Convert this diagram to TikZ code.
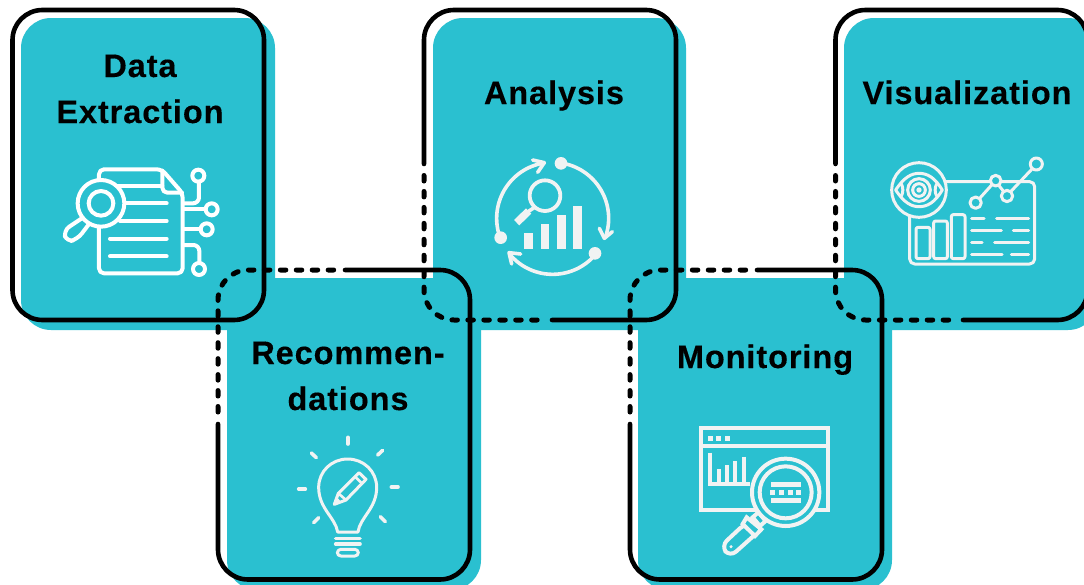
\documentclass[tikz,border=0pt]{standalone}
\usepackage{fontspec}
\newfontfamily\lab[LetterSpace=2.8,BoldFeatures={FakeBold=0.25}]{Liberation Sans}
\definecolor{tealp}{HTML}{2AC0D0}
\definecolor{ico}{HTML}{F1F3F3}
\tikzset{
  panelfill/.style={fill=tealp,rounded corners=30pt},
  outlinesolid/.style={draw=black,line width=4.6pt,rounded corners=30pt,line cap=round},
  outlinedash/.style={outlinesolid,line width=5pt,dash pattern=on 5.5pt off 10.45pt},
  lbl/.style={anchor=base,font=\lab\bfseries\fontsize{32.5}{32.5}\selectfont,text=black,inner sep=0pt},
  zoomed/.style={x=.33333pt,y=-.33333pt},
  iw/.style={draw=white,line width=4pt,line cap=round,line join=round},
  ig/.style={draw=ico,line width=3.6pt,line cap=round,line join=round},
  igt/.style={draw=ico,line width=3pt,line cap=round,line join=round},
  igs/.style={draw=ico,line width=4pt,line cap=butt,line join=miter},
}
\begin{document}
\begin{tikzpicture}[x=1pt,y=-1pt]
\useasboundingbox (0,0) rectangle (1084,584);
\clip (0,0) rectangle (1084,584);
\fill[white] (0,0) rectangle (1084,584);
% teal panels
\fill[panelfill] (21,18) rectangle (275,330);
\fill[panelfill] (433,18) rectangle (686,330);
\fill[panelfill] (844,18) rectangle (1098,330);
\fill[panelfill] (227,278) rectangle (481,590);
\fill[panelfill] (638,278) rectangle (892,590);
% labels
\node[lbl] (data) at (140,77) {Data};
\node[lbl] (extr) at (140,123) {Extraction};
\node[lbl] (anal) at (554,104) {Analysis};
\node[lbl] (visu) at (967,104) {Visualization};
\node[lbl] (reco) at (348,364) {Recommen-};
\node[lbl] (dati) at (348,410) {dations};
\node[lbl] (moni) at (765,368) {Monitoring};

% icon 1: document
\begin{scope}[shift={(0,140)},zoomed]
\draw[iw,rounded corners=5pt] (297,118) -- (297,88) -- (485,88) -- (548,160) -- (548,400) -- (297,400) -- (297,262);
\draw[iw,rounded corners=5pt] (487,92) -- (487,158) -- (546,158);
\draw[iw] (345,137) -- (487,137);
\draw[iw] (378,190) -- (500,190);
\draw[iw] (360,243) -- (500,243);
\draw[iw] (330,296) -- (500,296);
\draw[iw] (330,349) -- (500,349);
\draw[iw,rounded corners=7pt] (250,232) -- (190,272) -- (200,306) -- (232,298) -- (265,255);
\draw[iw,fill=tealp] (303,190) circle[radius=70];
\draw[iw] (303,190) circle[radius=37];
\draw[iw,rounded corners=6pt] (552,190) -- (597,190) -- (597,125);
\draw[iw] (595,107) circle[radius=18];
\draw[iw] (552,207) -- (616,207);
\draw[iw] (635,208) circle[radius=18];
\draw[iw] (552,267) -- (602,267);
\draw[iw] (620,268) circle[radius=18];
\draw[iw,rounded corners=6pt] (552,315) -- (598,315) -- (598,368);
\draw[iw] (597,387) circle[radius=18];
\end{scope}

% icon 2: analysis cycle
\begin{scope}[shift={(410,140)},zoomed]
\def\ca{428}\def\cb{235}
\draw[ig] plot[domain=163:258,samples=40,smooth] ({\ca+168*cos(\x)},{\cb+168*sin(\x)});
\draw[ig] plot[domain=-78:20,samples=40,smooth] ({\ca+168*cos(\x)},{\cb+168*sin(\x)});
\draw[ig] plot[domain=42:140,samples=40,smooth] ({\ca+168*cos(\x)},{\cb+168*sin(\x)});
\draw[ig] (368,60) -- (403,68) -- (383,97);
\draw[ig] (568,265) -- (583,295) -- (607,275);
\draw[ig] (332,342) -- (297,338) -- (305,372);
\fill[ico] (272,293) circle[radius=19];
\fill[ico] (453,70) circle[radius=19];
\fill[ico] (555,340) circle[radius=19];
\draw[ig,line width=3.8pt] (405,167) circle[radius=46];
\draw[ig] (372,203) -- (350,218);
\draw[ico,line width=7.5pt] (356,213) -- (320,248);
\fill[ico] (342,278) rectangle (368,328);
\fill[ico] (392,252) rectangle (417,328);
\fill[ico] (441,224) rectangle (467,328);
\fill[ico] (490,198) rectangle (516,328);
\end{scope}

% icon 3: dashboard
\begin{scope}[shift={(824,140)},zoomed]
\draw[igt,rounded corners=5pt] (257,125) rectangle (632,372);
\draw[igt,fill=tealp] (285,150) circle[radius=82];
\draw[igt] (215,150) .. controls (240,112) and (262,100) .. (285,100) .. controls (310,100) and (332,112) .. (355,150) .. controls (332,188) and (310,200) .. (285,200) .. controls (262,200) and (240,188) .. (215,150) -- cycle;
\draw[igt] (285,150) circle[radius=34];
\draw[igt] (285,150) circle[radius=19];
\fill[ico] (285,150) circle[radius=8];
\draw[igt] (232,132) .. controls (238,142) and (238,158) .. (232,168);
\draw[igt] (338,132) .. controls (332,142) and (332,158) .. (338,168);
\draw[igt] (467,175) -- (503,135);
\draw[igt] (525,137) -- (538,153);
\draw[igt] (560,155) -- (626,85);
\draw[igt,fill=tealp] (455,188) circle[radius=17];
\draw[igt,fill=tealp] (515,122) circle[radius=16];
\draw[igt,fill=tealp] (549,168) circle[radius=17];
\draw[igt,fill=tealp] (637,72) circle[radius=18];
\draw[igt,rounded corners=2pt] (276,262) rectangle (318,356);
\draw[igt,rounded corners=2pt] (329,243) rectangle (370,356);
\draw[igt,rounded corners=2pt] (382,224) rectangle (423,356);
\draw[igt] (443,236) -- (480,236);
\draw[igt] (518,236) -- (614,236);
\draw[igt] (443,271) -- (532,271);
\draw[igt] (568,271) -- (614,271);
\draw[igt] (443,307) -- (474,307);
\draw[igt] (512,307) -- (614,307);
\draw[igt] (443,343) -- (534,343);
\draw[igt] (562,343) -- (614,343);
\end{scope}

% icon 4: bulb
\begin{scope}[shift={(210,410)},zoomed]
\draw[ig] (414,82) -- (414,102);
\draw[ig] (304,129) -- (319,143);
\draw[ig] (518,121) -- (503,135);
\draw[ig] (266,237) -- (286,237);
\draw[ig] (544,231) -- (564,231);
\draw[ig] (311,338) -- (326,323);
\draw[ig] (511,320) -- (526,335);
\draw[igt] (383,366) .. controls (376,322) and (326,296) .. (326,232) .. controls (326,184) and (365,147) .. (413,147) .. controls (461,147) and (500,184) .. (500,232) .. controls (500,296) and (450,322) .. (444,366) -- cycle;
\draw[ig] (377,385) -- (450,385);
\draw[ig] (377,402) -- (450,402);
\draw[igt,rounded corners=3.5pt] (382,418) rectangle (445,438);
\draw[igt] (373,283) -- (385,250) -- (447,188) -- (468,208) -- (408,270) -- cycle;
\draw[igt,line width=2.6pt] (385,250) -- (408,270);
\draw[igt,line width=2.6pt] (435,200) -- (456,220);
\fill[ico] (373,283) -- (381,262) -- (394,276) -- cycle;
\end{scope}

% icon 5: monitoring
\begin{scope}[shift={(620,410)},zoomed]
\draw[igs] (242,55) rectangle (625,300);
\draw[igs] (242,108) -- (625,108);
\fill[ico] (264,78) rectangle (279,93);
\fill[ico] (289,78) rectangle (303,93);
\fill[ico] (316,78) rectangle (330,93);
\draw[igs] (270,128) -- (270,223) -- (390,223);
\draw[igs] (296,178) -- (296,223);
\draw[igs] (321,165) -- (321,223);
\draw[igs] (346,153) -- (346,223);
\draw[igs] (371,140) -- (371,223);
\draw[igs,line join=round,rounded corners=8pt,fill=tealp] (378,338) -- (303,408) -- (330,441) -- (415,365) -- cycle;
\draw[igs,fill=tealp] (380,322) -- (368,342) -- (405,378) -- (424,358) -- cycle;
\draw[igs,fill=tealp] (398,322) -- (415,307) -- (437,333) -- (420,348) -- cycle;
\draw[igs,fill=tealp] (497,247) circle[radius=101];
\draw[igs] (497,247) circle[radius=78];
\fill[ico] (453,216) rectangle (543,231);
\fill[ico] (450,240) rectangle (465,255);
\fill[ico] (477,240) rectangle (492,255);
\fill[ico] (503,240) rectangle (518,255);
\fill[ico] (529,240) rectangle (543,255);
\fill[ico] (453,264) rectangle (543,279);
\fill[ico] (333,410) circle[radius=5];
\end{scope}

% outlines
\draw[outlinesolid] (12.5,10) rectangle (264,320);
% analysis
\draw[outlinesolid] (424,164) -- (424,10) -- (676,10) -- (676,320) -- (552,320);
\draw[outlinedash] (424,175.5) -- (424,320) -- (542,320);
% visualization
\draw[outlinesolid] (835.5,164) -- (835.5,10) -- (1087.5,10) -- (1087.5,320) -- (963,320);
\draw[outlinedash] (835.5,175.5) -- (835.5,320) -- (954,320);
% recommendations
\draw[outlinesolid] (345,270) -- (470,270) -- (470,579.5) -- (218,579.5) -- (218,424);
\draw[outlinedash] (218,412) -- (218,270) -- (338,270);
% monitoring
\draw[outlinesolid] (757,270) -- (882,270) -- (882,579.5) -- (630,579.5) -- (630,424);
\draw[outlinedash] (630,412) -- (630,270) -- (750,270);
\end{tikzpicture}
\end{document}
